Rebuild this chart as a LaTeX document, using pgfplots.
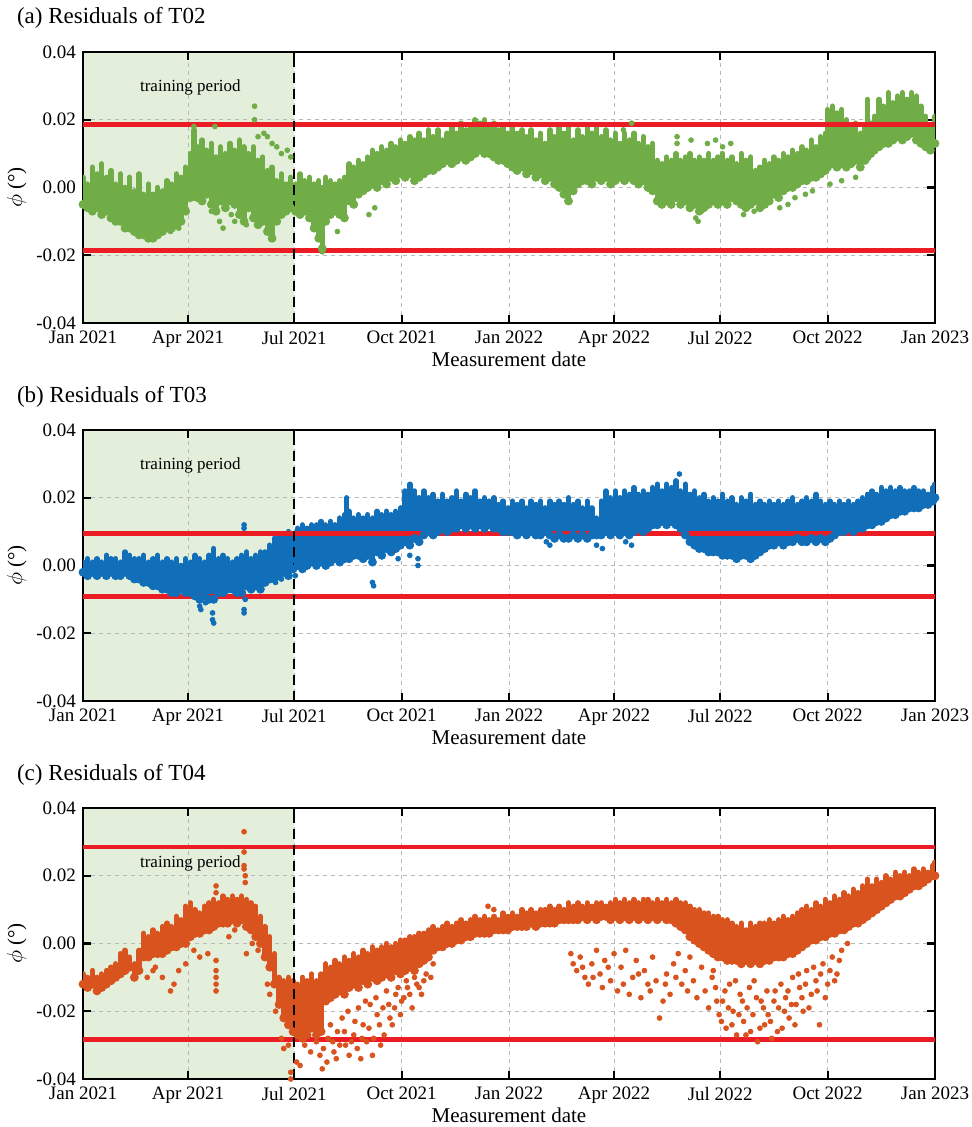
\documentclass[border=0pt]{standalone}
\usepackage{fontspec}
\setmainfont{Liberation Serif}
\usepackage{pgfplots}
\pgfplotsset{compat=1.18}
\usepackage{pgfplotstable}

\definecolor{cgreen}{RGB}{112,173,71}
\definecolor{cblue}{RGB}{17,110,184}
\definecolor{corange}{RGB}{217,83,30}
\definecolor{cred}{RGB}{236,28,36}
\definecolor{cshade}{RGB}{227,239,218}

% ---------- Panel (a): band envelope (day, low, high) ----------
\pgfplotstableread{
d lo hi
0 -0.005 0.003
4 -0.006 0.001
8 -0.007 0.006
12 -0.006 0.004
16 -0.008 0.007
20 -0.007 0.003
24 -0.009 0.005
28 -0.010 0.001
32 -0.010 0.004
36 -0.012 0.000
40 -0.012 0.003
44 -0.013 -0.001
48 -0.014 0.004
52 -0.014 -0.002
56 -0.015 0.001
60 -0.015 -0.002
64 -0.014 0.000
68 -0.013 -0.001
72 -0.012 0.002
76 -0.012 0.001
80 -0.011 0.004
84 -0.010 0.003
88 -0.007 0.006
92 -0.003 0.010
95 -0.001 0.017
98 -0.003 0.012
102 -0.004 0.014
106 -0.002 0.011
110 -0.005 0.013
114 -0.007 0.009
118 -0.004 0.012
122 -0.006 0.010
126 -0.004 0.013
130 -0.005 0.011
134 -0.008 0.014
138 -0.010 0.012
142 -0.006 0.010
146 -0.009 0.012
150 -0.011 0.008
154 -0.010 0.009
158 -0.013 0.005
162 -0.015 0.006
166 -0.010 0.002
170 -0.008 0.004
174 -0.007 0.001
178 -0.006 0.003
182 -0.007 0.001
186 -0.008 0.004
190 -0.007 0.002
194 -0.009 0.003
198 -0.012 0.001
202 -0.015 0.002
205 -0.018 0.000
208 -0.010 0.003
212 -0.008 0.002
216 -0.007 0.001
220 -0.008 0.002
224 -0.009 0.003
228 -0.004 0.007
232 -0.005 0.006
236 -0.002 0.008
240 -0.001 0.007
244 0.000 0.009
248 0.001 0.011
252 0.000 0.010
256 0.002 0.012
260 0.001 0.011
264 0.003 0.013
268 0.002 0.012
272 0.004 0.014
276 0.003 0.013
280 0.004 0.015
284 0.002 0.014
288 0.003 0.016
292 0.004 0.014
296 0.005 0.017
300 0.005 0.015
304 0.006 0.017
308 0.007 0.014
312 0.008 0.016
316 0.007 0.018
320 0.008 0.016
324 0.009 0.019
328 0.008 0.017
332 0.009 0.018
336 0.010 0.020
340 0.011 0.019
344 0.010 0.020
348 0.010 0.018
352 0.009 0.019
356 0.008 0.017
360 0.008 0.018
364 0.007 0.016
368 0.006 0.018
372 0.005 0.016
376 0.006 0.017
380 0.004 0.015
384 0.005 0.017
388 0.003 0.014
392 0.004 0.016
396 0.002 0.013
400 0.003 0.017
404 0.001 0.015
408 0.000 0.018
412 -0.002 0.016
416 -0.004 0.018
420 -0.001 0.014
424 0.001 0.017
428 0.002 0.015
432 0.002 0.018
436 0.001 0.016
440 0.003 0.018
444 0.002 0.015
448 0.003 0.017
452 0.001 0.014
456 0.002 0.016
460 0.003 0.013
464 0.002 0.016
468 0.003 0.014
472 0.002 0.016
476 0.001 0.013
480 0.002 0.015
484 0.000 0.012
488 -0.001 0.013
492 -0.004 0.008
496 -0.005 0.007
500 -0.004 0.009
504 -0.005 0.008
508 -0.003 0.010
512 -0.005 0.008
516 -0.004 0.009
520 -0.006 0.010
524 -0.005 0.008
528 -0.007 0.009
532 -0.006 0.008
536 -0.005 0.010
540 -0.004 0.008
544 -0.005 0.009
548 -0.004 0.010
552 -0.005 0.008
556 -0.003 0.009
560 -0.004 0.007
564 -0.005 0.010
568 -0.006 0.008
572 -0.005 0.009
576 -0.004 0.005
580 -0.006 0.006
584 -0.005 0.008
588 -0.004 0.007
592 -0.002 0.009
596 -0.003 0.008
600 -0.001 0.010
604 0.000 0.009
608 0.000 0.011
612 0.001 0.010
616 0.002 0.012
620 0.002 0.011
624 0.003 0.014
628 0.003 0.012
632 0.004 0.015
636 0.005 0.016
638 0.006 0.023
642 0.007 0.024
646 0.006 0.022
650 0.007 0.023
654 0.006 0.020
658 0.007 0.018
662 0.008 0.019
666 0.006 0.016
670 0.008 0.018
672 0.009 0.026
675 0.010 0.019
678 0.011 0.021
682 0.012 0.026
686 0.013 0.024
690 0.013 0.028
694 0.014 0.025
698 0.015 0.027
702 0.014 0.028
706 0.015 0.026
710 0.016 0.028
714 0.014 0.027
718 0.013 0.024
722 0.012 0.021
726 0.011 0.018
730 0.013 0.021
}\TA

\pgfplotstableread{
d y
95 0.018
113 0.018
147 0.024
147 0.020
150 0.015
155 0.016
158 0.015
162 0.013
166 0.012
170 0.010
175 0.011
178 0.009
75 -0.013
82 -0.012
110 -0.007
117 -0.010
120 -0.012
127 -0.008
130 -0.010
140 -0.011
205 -0.019
218 -0.013
245 -0.008
250 -0.006
463 0.017
470 0.019
509 0.015
509 0.013
521 0.014
535 0.013
542 0.014
548 0.012
555 0.013
525 -0.009
527 -0.010
530 -0.007
566 -0.008
575 -0.007
597 -0.006
604 -0.005
610 -0.003
619 -0.002
625 -0.001
640 0.001
650 0.002
662 0.003
}\OA

% ---------- Panel (b) ----------
\pgfplotstableread{
d lo hi
0 -0.002 0.001
4 -0.003 0.002
8 -0.002 0.001
12 -0.003 0.002
16 -0.002 0.001
20 -0.003 0.003
24 -0.002 0.002
28 -0.003 0.002
32 -0.003 0.001
36 -0.002 0.004
40 -0.003 0.003
44 -0.004 0.002
48 -0.004 0.002
52 -0.005 0.003
56 -0.005 0.001
60 -0.006 0.002
64 -0.006 0.003
68 -0.007 0.001
72 -0.007 0.002
76 -0.008 0.001
80 -0.008 0.002
84 -0.007 0.000
88 -0.008 0.002
92 -0.008 0.001
96 -0.009 0.003
100 -0.010 0.002
104 -0.009 0.001
108 -0.010 0.003
112 -0.010 0.005
116 -0.008 0.002
120 -0.008 0.003
124 -0.007 0.002
128 -0.007 0.001
132 -0.008 0.002
136 -0.008 0.003
140 -0.006 0.004
144 -0.007 0.002
148 -0.006 0.003
152 -0.007 0.004
156 -0.005 0.004
160 -0.004 0.006
164 -0.004 0.008
168 -0.003 0.009
172 -0.002 0.009
176 -0.003 0.010
180 -0.001 0.009
184 0.000 0.011
188 -0.001 0.012
192 0.000 0.011
196 0.001 0.012
200 0.000 0.012
204 0.001 0.013
208 0.000 0.012
212 0.001 0.013
216 0.002 0.012
220 0.001 0.014
224 0.002 0.015
226 0.003 0.020
228 0.002 0.016
232 0.003 0.014
236 0.003 0.015
240 0.002 0.014
244 0.003 0.015
248 0.001 0.014
252 0.004 0.016
256 0.003 0.015
260 0.005 0.016
264 0.004 0.015
268 0.005 0.016
272 0.006 0.017
276 0.007 0.022
280 0.006 0.024
284 0.008 0.022
288 0.007 0.020
292 0.009 0.022
296 0.010 0.020
300 0.009 0.021
304 0.010 0.019
308 0.011 0.021
312 0.010 0.019
316 0.011 0.020
320 0.011 0.022
324 0.012 0.019
328 0.011 0.021
332 0.012 0.020
336 0.011 0.022
340 0.012 0.019
344 0.011 0.020
348 0.012 0.019
352 0.011 0.020
356 0.011 0.018
360 0.010 0.019
364 0.010 0.017
368 0.010 0.019
372 0.009 0.018
376 0.010 0.019
380 0.009 0.017
384 0.010 0.019
388 0.009 0.018
392 0.009 0.019
396 0.010 0.017
400 0.009 0.019
404 0.008 0.018
408 0.009 0.019
412 0.008 0.018
416 0.008 0.020
420 0.009 0.018
424 0.008 0.019
428 0.009 0.017
432 0.008 0.019
436 0.009 0.017
440 0.009 0.014
444 0.009 0.019
448 0.010 0.022
452 0.009 0.020
456 0.010 0.022
460 0.009 0.020
464 0.010 0.022
468 0.009 0.021
472 0.010 0.023
476 0.011 0.021
480 0.010 0.022
484 0.011 0.021
488 0.012 0.023
492 0.012 0.024
496 0.013 0.022
500 0.012 0.024
504 0.013 0.023
508 0.012 0.025
512 0.011 0.022
516 0.009 0.024
520 0.007 0.021
524 0.006 0.022
528 0.005 0.020
532 0.005 0.021
536 0.004 0.019
540 0.004 0.020
544 0.004 0.019
548 0.003 0.021
552 0.003 0.019
556 0.003 0.020
560 0.002 0.018
564 0.003 0.020
568 0.003 0.019
572 0.002 0.021
576 0.003 0.018
580 0.004 0.019
584 0.005 0.018
588 0.006 0.019
592 0.006 0.018
596 0.007 0.019
600 0.006 0.018
604 0.007 0.019
608 0.007 0.020
612 0.008 0.018
616 0.007 0.019
620 0.007 0.020
624 0.008 0.019
628 0.007 0.021
632 0.008 0.019
636 0.007 0.018
640 0.008 0.019
644 0.009 0.018
648 0.010 0.019
652 0.010 0.018
656 0.011 0.019
660 0.010 0.018
664 0.011 0.019
668 0.011 0.020
672 0.012 0.021
676 0.012 0.022
680 0.013 0.021
684 0.013 0.023
688 0.014 0.022
692 0.015 0.023
696 0.015 0.022
700 0.016 0.023
704 0.016 0.022
708 0.017 0.022
712 0.017 0.023
716 0.017 0.022
720 0.018 0.022
724 0.018 0.021
728 0.019 0.023
730 0.020 0.024
}\TB

\pgfplotstableread{
d y
100 -0.012
101 -0.013
105 -0.011
111 -0.014
111 -0.016
112 -0.017
138 0.012
138 0.011
138 -0.013
138 -0.014
139 -0.010
165 -0.005
170 -0.004
182 -0.003
248 -0.005
249 -0.006
270 0.002
280 0.003
287 0.000
287 0.002
397 0.007
400 0.006
440 0.006
445 0.005
465 0.007
470 0.006
511 0.027
}\OB

% ---------- Panel (c) ----------
\pgfplotstableread{
d lo hi
0 -0.012 -0.009
4 -0.013 -0.010
8 -0.012 -0.008
12 -0.014 -0.010
16 -0.013 -0.009
20 -0.012 -0.008
24 -0.011 -0.007
28 -0.010 -0.006
32 -0.009 -0.003
36 -0.008 -0.002
40 -0.007 -0.004
44 -0.010 -0.006
48 -0.008 -0.002
52 -0.004 0.003
56 -0.004 0.002
60 -0.003 0.004
64 -0.003 0.003
68 -0.003 0.005
72 -0.002 0.006
76 -0.001 0.005
80 -0.001 0.008
84 0.000 0.007
88 0.000 0.011
92 0.002 0.012
96 0.003 0.010
100 0.003 0.009
104 0.004 0.011
108 0.004 0.012
112 0.005 0.013
116 0.006 0.012
120 0.006 0.014
124 0.006 0.013
128 0.007 0.014
132 0.006 0.013
136 0.007 0.014
140 0.005 0.013
144 0.004 0.012
148 0.002 0.011
152 0.000 0.008
156 -0.004 0.005
160 -0.007 0.002
164 -0.012 -0.003
168 -0.018 -0.010
172 -0.022 -0.011
176 -0.024 -0.010
180 -0.026 -0.011
184 -0.027 -0.012
188 -0.028 -0.010
192 -0.027 -0.011
196 -0.025 -0.009
200 -0.027 -0.011
204 -0.026 -0.009
208 -0.017 -0.006
212 -0.016 -0.007
216 -0.015 -0.005
220 -0.014 -0.006
224 -0.015 -0.004
228 -0.013 -0.005
232 -0.012 -0.003
236 -0.013 -0.004
240 -0.011 -0.002
244 -0.012 -0.003
248 -0.010 -0.001
252 -0.011 -0.002
256 -0.010 -0.001
260 -0.009 0.000
264 -0.010 -0.001
268 -0.008 0.000
272 -0.009 0.001
276 -0.008 0.001
280 -0.007 0.002
284 -0.008 0.002
288 -0.006 0.003
292 -0.005 0.003
296 -0.004 0.004
300 -0.002 0.005
304 -0.001 0.004
308 -0.001 0.005
312 0.000 0.006
316 0.000 0.005
320 0.001 0.006
324 0.001 0.007
328 0.002 0.006
332 0.002 0.007
336 0.003 0.008
340 0.003 0.007
344 0.003 0.008
348 0.003 0.007
352 0.004 0.008
356 0.004 0.007
360 0.004 0.009
364 0.004 0.008
368 0.005 0.009
372 0.005 0.008
376 0.005 0.010
380 0.005 0.009
384 0.006 0.010
388 0.005 0.009
392 0.006 0.010
396 0.006 0.010
400 0.006 0.011
404 0.006 0.010
408 0.007 0.011
412 0.007 0.010
416 0.007 0.012
420 0.007 0.011
424 0.007 0.012
428 0.008 0.011
432 0.007 0.012
436 0.008 0.011
440 0.007 0.012
444 0.008 0.012
448 0.008 0.011
452 0.007 0.012
456 0.008 0.013
460 0.007 0.012
464 0.008 0.013
468 0.007 0.012
472 0.008 0.013
476 0.007 0.012
480 0.008 0.013
484 0.007 0.013
488 0.008 0.012
492 0.007 0.013
496 0.008 0.012
500 0.007 0.013
504 0.007 0.012
508 0.006 0.013
512 0.005 0.012
516 0.004 0.012
520 0.002 0.011
524 0.001 0.010
528 0.000 0.010
532 -0.001 0.009
536 -0.002 0.009
540 -0.003 0.008
544 -0.004 0.008
548 -0.004 0.007
552 -0.005 0.007
556 -0.005 0.006
560 -0.005 0.005
564 -0.006 0.006
568 -0.005 0.004
572 -0.006 0.006
576 -0.005 0.005
580 -0.006 0.006
584 -0.005 0.006
588 -0.005 0.007
592 -0.004 0.006
596 -0.004 0.007
600 -0.004 0.008
604 -0.003 0.007
608 -0.003 0.008
612 -0.002 0.009
616 -0.001 0.010
620 0.000 0.011
624 0.001 0.010
628 0.001 0.012
632 0.002 0.011
636 0.002 0.013
640 0.003 0.012
644 0.003 0.014
648 0.004 0.013
652 0.004 0.015
656 0.005 0.014
660 0.006 0.016
664 0.006 0.015
668 0.007 0.017
672 0.008 0.019
676 0.009 0.017
680 0.010 0.019
684 0.011 0.018
688 0.012 0.020
692 0.013 0.019
696 0.014 0.021
700 0.014 0.020
704 0.015 0.021
708 0.016 0.020
712 0.017 0.022
716 0.017 0.021
720 0.018 0.022
724 0.019 0.021
728 0.020 0.023
730 0.020 0.024
}\TC

\pgfplotstableread{
d y
114 -0.005
114 -0.008
114 -0.010
114 -0.012
114 -0.014
114 0.015
114 0.017
138 0.033
138 0.027
138 0.023
138 0.022
139 0.020
139 0.018
55 -0.010
60 -0.008
62 -0.007
68 -0.010
75 -0.014
78 -0.012
82 -0.008
88 -0.006
95 -0.002
100 -0.004
107 -0.003
125 0.002
130 0.004
140 -0.003
145 0.000
150 -0.002
158 -0.012
160 -0.015
165 -0.020
170 -0.028
172 -0.031
176 -0.030
178 -0.038
178 -0.040
183 -0.035
186 -0.036
190 -0.030
195 -0.032
200 -0.029
203 -0.033
205 -0.037
206 -0.031
209 -0.035
210 -0.028
212 -0.024
214 -0.029
215 -0.032
217 -0.034
218 -0.026
220 -0.030
222 -0.022
224 -0.026
225 -0.030
227 -0.020
228 -0.033
230 -0.029
232 -0.027
233 -0.023
235 -0.031
236 -0.019
238 -0.034
239 -0.028
240 -0.024
242 -0.017
243 -0.029
245 -0.025
246 -0.018
248 -0.033
249 -0.028
251 -0.016
252 -0.021
254 -0.024
255 -0.030
257 -0.019
258 -0.027
260 -0.014
262 -0.018
263 -0.022
265 -0.024
267 -0.019
268 -0.015
270 -0.013
272 -0.021
273 -0.017
275 -0.016
277 -0.011
278 -0.013
280 -0.015
282 -0.019
284 -0.010
286 -0.012
288 -0.013
290 -0.015
292 -0.011
294 -0.009
298 -0.010
300 -0.006
347 0.011
352 0.010
418 -0.003
420 -0.006
423 -0.008
426 -0.004
428 -0.007
430 -0.010
433 -0.012
436 -0.006
437 -0.010
440 -0.002
443 -0.009
445 -0.013
447 -0.005
450 -0.007
452 -0.011
455 -0.003
458 -0.014
461 -0.007
463 -0.012
465 -0.002
468 -0.015
471 -0.010
474 -0.005
476 -0.009
478 -0.016
481 -0.008
484 -0.012
486 -0.014
488 -0.004
491 -0.011
494 -0.022
497 -0.017
499 -0.012
500 -0.009
503 -0.015
506 -0.006
508 -0.010
510 -0.003
513 -0.012
516 -0.008
518 -0.014
520 -0.004
523 -0.011
526 -0.016
530 -0.007
533 -0.014
536 -0.019
539 -0.010
540 -0.008
542 -0.013
543 -0.017
545 -0.021
547 -0.023
548 -0.017
550 -0.014
551 -0.025
553 -0.019
554 -0.012
556 -0.024
557 -0.020
559 -0.011
560 -0.027
562 -0.021
563 -0.015
565 -0.017
566 -0.023
568 -0.027
569 -0.019
571 -0.013
572 -0.026
574 -0.021
575 -0.011
577 -0.016
578 -0.029
580 -0.025
581 -0.017
583 -0.019
584 -0.024
586 -0.014
587 -0.021
589 -0.023
590 -0.028
592 -0.017
593 -0.014
595 -0.026
596 -0.019
598 -0.012
599 -0.025
601 -0.020
602 -0.016
604 -0.014
605 -0.022
607 -0.018
608 -0.010
610 -0.024
611 -0.018
613 -0.009
614 -0.013
616 -0.016
617 -0.020
619 -0.012
620 -0.008
622 -0.019
624 -0.015
626 -0.007
628 -0.011
629 -0.014
631 -0.024
632 -0.009
634 -0.006
636 -0.016
638 -0.012
640 -0.008
642 -0.004
644 -0.011
646 -0.009
648 -0.005
650 -0.002
655 0.000
}\OC

\pgfplotsset{
  panel/.style={
    set layers,
    scale only axis, width=426pt, height=135.5pt, anchor=north west,
    xmin=0, xmax=730, ymin=-0.04, ymax=0.04,
    scaled y ticks=false, scaled x ticks=false,
    xtick={0,90,181,273,365,455,546,638,730},
    xticklabels={Jan 2021,Apr 2021,Jul 2021,Oct 2021,Jan 2022,Apr 2022,Jul 2022,Oct 2022,Jan 2023},
    ytick={-0.04,-0.02,0,0.02,0.04},
    yticklabels={-0.04,-0.02,0.00,0.02,0.04},
    tick label style={font=\fontsize{9.5}{11}\selectfont},
    xticklabel style={yshift=-0.5pt},
    tick align=inside, major tick length=4pt,
    grid=major,
    grid style={gray!55, line width=0.4pt, dash pattern=on 2pt off 2pt},
    axis line style={line width=1.1pt},
    every tick/.style={black, line width=1.1pt},
    xlabel={Measurement date},
    ylabel={$\phi$ (°)},
    label style={font=\fontsize{10.5}{12}\selectfont},
    xlabel style={yshift=5pt},
    ylabel style={yshift=-2pt},
  },
  shade/.style={on layer=axis background, fill=cshade, draw=none},
  thr/.style={cred, line width=2.4pt},
  split/.style={black, line width=1.1pt, dash pattern=on 5pt off 3pt},
  outl/.style={only marks, mark=*, mark size=1.2pt},
  band/.style={only marks, mark=none,
    error bars/.cd, y dir=plus, y explicit, error mark=none,
    error bar style={line width=2.7pt, line cap=round, #1}},
}

\begin{document}
\begin{tikzpicture}

% ---------------- (a) ----------------
\node[anchor=west, font=\fontsize{11.5}{13}\selectfont] at (5pt,-9pt) {(a) Residuals of T02};
\begin{axis}[panel, at={(41.5pt,-26pt)}]
\addplot[shade] coordinates {(0,-0.04) (181,-0.04) (181,0.04) (0,0.04)} -- cycle;
\addplot[cgreen, band=cgreen] table[x=d, y=lo, y error expr=\thisrow{hi}-\thisrow{lo}]{\TA};
\addplot[outl, cgreen] table[x=d,y=y]{\OA};
\addplot[thr] coordinates {(0,0.0187) (730,0.0187)};
\addplot[thr] coordinates {(0,-0.0187) (730,-0.0187)};
\addplot[split] coordinates {(181,-0.04) (181,0.04)};
\node[font=\fontsize{8.5}{10}\selectfont] at (axis cs:92,0.0295) {training period};
\end{axis}

% ---------------- (b) ----------------
\node[anchor=west, font=\fontsize{11.5}{13}\selectfont] at (5pt,-198.5pt) {(b) Residuals of T03};
\begin{axis}[panel, at={(41.5pt,-215pt)}]
\addplot[shade] coordinates {(0,-0.04) (181,-0.04) (181,0.04) (0,0.04)} -- cycle;
\addplot[cblue, band=cblue] table[x=d, y=lo, y error expr=\thisrow{hi}-\thisrow{lo}]{\TB};
\addplot[outl, cblue] table[x=d,y=y]{\OB};
\addplot[thr] coordinates {(0,0.0095) (730,0.0095)};
\addplot[thr] coordinates {(0,-0.0092) (730,-0.0092)};
\addplot[split] coordinates {(181,-0.04) (181,0.04)};
\node[font=\fontsize{8.5}{10}\selectfont] at (axis cs:92,0.0295) {training period};
\end{axis}

% ---------------- (c) ----------------
\node[anchor=west, font=\fontsize{11.5}{13}\selectfont] at (5pt,-387.5pt) {(c) Residuals of T04};
\begin{axis}[panel, at={(41.5pt,-404pt)}]
\addplot[shade] coordinates {(0,-0.04) (181,-0.04) (181,0.04) (0,0.04)} -- cycle;
\addplot[corange, band=corange] table[x=d, y=lo, y error expr=\thisrow{hi}-\thisrow{lo}]{\TC};
\addplot[outl, corange] table[x=d,y=y]{\OC};
\addplot[thr] coordinates {(0,0.0285) (730,0.0285)};
\addplot[thr] coordinates {(0,-0.0283) (730,-0.0283)};
\addplot[split] coordinates {(181,-0.04) (181,0.04)};
\node[font=\fontsize{8.5}{10}\selectfont] at (axis cs:92,0.0235) {training period};
\end{axis}

\pgfresetboundingbox
\useasboundingbox (0,0) rectangle (485.5pt,-563.5pt);
\end{tikzpicture}
\end{document}
